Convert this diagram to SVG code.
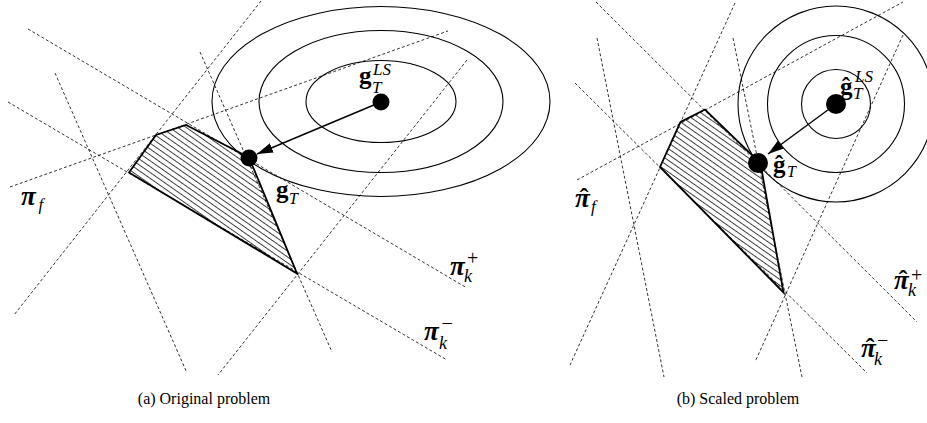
<svg xmlns="http://www.w3.org/2000/svg" width="927" height="423" viewBox="0 0 927 423">
<style>
.d{fill:none;stroke:#000;stroke-width:0.8;stroke-dasharray:3 2.2}
.c{fill:none;stroke:#000;stroke-width:1.1}
.poly{fill:url(#hatch);stroke:#000;stroke-width:1.8;stroke-linejoin:miter}
.arr{fill:none;stroke:#000;stroke-width:1.4;marker-end:url(#ah)}
.dot{fill:#000}
text{font-family:"Liberation Serif","Times New Roman",serif;fill:#000}
.b{font-weight:bold}
.bi{font-weight:bold;font-style:italic}
.i{font-style:italic}
.pi{font-weight:bold;font-style:italic;font-size:27px}
.hat{font-weight:bold;font-size:26px;text-anchor:middle}
.cap{font-size:16px}
</style>
<defs>
<pattern id="hatch" patternUnits="userSpaceOnUse" width="10" height="4.8" patternTransform="rotate(35)">
<path d="M0,2.4 H10" stroke="#000" stroke-width="0.75"/>
</pattern>
<marker id="ah" markerUnits="userSpaceOnUse" markerWidth="17" markerHeight="10" refX="16" refY="5" orient="auto">
<path d="M0,0 L16,5 L0,10 Z" fill="#000"/>
</marker>
</defs>

<g id="connectors">
<g id="lines-a">
<line class="d" x1="261" y1="1" x2="14" y2="315"/>
<line class="d" x1="28" y1="29" x2="467" y2="288"/>
<line class="d" x1="55" y1="73" x2="187" y2="373"/>
<line class="d" x1="8" y1="102" x2="447" y2="360"/>
<line class="d" x1="10" y1="187" x2="448" y2="31"/>
<line class="d" x1="200" y1="52" x2="332" y2="352"/>
<line class="d" x1="467" y1="60" x2="218" y2="375"/>
</g>
<g id="lines-b">
<line class="d" x1="596" y1="2" x2="917" y2="322"/>
<line class="d" x1="735" y1="3" x2="570" y2="365"/>
<line class="d" x1="597" y1="38" x2="664" y2="377"/>
<line class="d" x1="575" y1="83" x2="867" y2="373"/>
<line class="d" x1="577" y1="180" x2="903" y2="2"/>
<line class="d" x1="733" y1="38" x2="802" y2="377"/>
<line class="d" x1="903" y1="35" x2="755" y2="362"/>
</g>
</g>

<g id="contours-a">
<ellipse class="c" cx="381" cy="101.5" rx="75" ry="41"/>
<ellipse class="c" cx="381" cy="101.5" rx="122" ry="71"/>
<ellipse class="c" cx="381" cy="101.5" rx="169" ry="95"/>
</g>
<g id="contours-b">
<circle class="c" cx="836" cy="104" r="34.5"/>
<circle class="c" cx="836" cy="104" r="68.5"/>
<circle class="c" cx="836" cy="104" r="98"/>
</g>

<g id="region-a">
<polygon class="poly" points="129,172.5 156,135 186,125 241.5,153.5 249,158 253,167 297,273.5"/>
</g>
<g id="region-b">
<polygon class="poly" points="660,167 680.5,122 705,109.5 752,155 758,163 762,172 783.5,292.5"/>
</g>

<g id="arrows">
<line class="arr" x1="381" y1="102" x2="257" y2="154"/>
<line class="arr" x1="836" y1="104" x2="768" y2="154"/>
</g>

<g id="gLS-a">
<circle class="dot" cx="381" cy="102" r="8.5"/>
<text><tspan class="b" x="359" y="84" font-size="25">g</tspan><tspan class="i" x="372" y="92.5" font-size="17">T</tspan><tspan class="i" x="373" y="75" font-size="17">LS</tspan></text>
</g>
<g id="gT-a">
<circle class="dot" cx="249" cy="158" r="8.5"/>
<text><tspan class="b" x="276" y="198" font-size="25">g</tspan><tspan class="i" x="289" y="204" font-size="16">T</tspan></text>
</g>
<g id="pif-a">
<text><tspan class="pi" x="21" y="205">π</tspan><tspan class="i" x="38.5" y="209.5" font-size="17">f</tspan></text>
</g>
<g id="pikp-a">
<text><tspan class="pi" x="450" y="275">π</tspan><tspan class="i" x="464" y="282" font-size="18">k</tspan><tspan x="467" y="264.5" font-size="20">+</tspan></text>
</g>
<g id="pikm-a">
<text><tspan class="pi" x="424" y="340">π</tspan><tspan class="i" x="439" y="349" font-size="18">k</tspan><tspan x="441.5" y="330" font-size="20">−</tspan></text>
</g>

<g id="gLS-b">
<circle class="dot" cx="836" cy="104" r="10"/>
<text><tspan class="b" x="840" y="95" font-size="25">ĝ</tspan><tspan class="i" x="853" y="99" font-size="17">T</tspan><tspan class="i" x="855" y="82" font-size="17">LS</tspan></text>
</g>
<g id="gT-b">
<circle class="dot" cx="758" cy="163" r="10"/>
<text><tspan class="b" x="773" y="173" font-size="25">ĝ</tspan><tspan class="i" x="787" y="177" font-size="16">T</tspan></text>
</g>
<g id="pif-b">
<text><tspan class="pi" x="575" y="207">π</tspan><tspan class="i" x="591" y="211.5" font-size="17">f</tspan></text>
<text class="hat" x="584" y="206">ˆ</text>
</g>
<g id="pikp-b">
<text><tspan class="pi" x="894" y="289">π</tspan><tspan class="i" x="908" y="296" font-size="18">k</tspan><tspan x="911" y="281.5" font-size="20">+</tspan></text>
<text class="hat" x="903" y="288">ˆ</text>
</g>
<g id="pikm-b">
<text><tspan class="pi" x="861" y="357">π</tspan><tspan class="i" x="874" y="365" font-size="18">k</tspan><tspan x="877" y="347" font-size="20">−</tspan></text>
<text class="hat" x="870" y="356">ˆ</text>
</g>

<g id="captions">
<text class="cap" x="204" y="404" text-anchor="middle">(a) Original problem</text>
<text class="cap" x="738" y="404" text-anchor="middle">(b) Scaled problem</text>
</g>
</svg>
